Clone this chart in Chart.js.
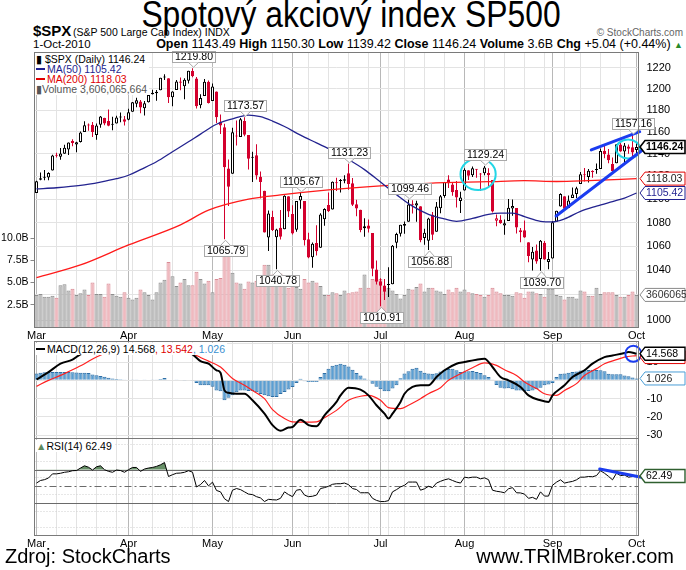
<!DOCTYPE html>
<html><head><meta charset="utf-8">
<script src="https://cdn.jsdelivr.net/npm/chart.js@4.4.1/dist/chart.umd.min.js"></script>
<style>
body{margin:0;background:#fff;width:686px;height:570px;overflow:hidden;position:relative;font-family:"Liberation Sans",Arial,sans-serif;color:#000;}
.abs{position:absolute;white-space:nowrap;}
canvas{position:absolute;left:0;}
.leg{background:#fff;font-family:"Liberation Sans",sans-serif;font-size:10.5px;line-height:10px;padding:1px 2px 1px 1px;}
.dash{display:inline-block;width:9px;height:2px;vertical-align:3px;margin-right:2px;}
</style></head><body>

<div class="abs" style="left:351px;top:-6px;font-size:37px;transform:translateX(-50%) scaleX(0.86);">Spotový akciový index SP500</div>
<div class="abs" style="left:33px;top:22px;font-size:15px;font-weight:bold;">$SPX</div>
<div class="abs" style="left:73px;top:26px;font-size:10.5px;">(S&amp;P 500 Large Cap Index) INDX</div>
<div class="abs" style="right:3px;top:27px;font-size:10px;color:#666;">© StockCharts.com</div>
<div class="abs" style="left:33px;top:38px;font-size:11.5px;">1-Oct-2010</div>
<div class="abs" style="right:3px;top:37px;font-size:12.5px;"><b>Open</b> 1143.49 <b>High</b> 1150.30 <b>Low</b> 1139.42 <b>Close</b> 1146.24 <b>Volume</b> 3.6B <b>Chg</b> +5.04 (+0.44%) <span style="color:#2a8a2a;font-size:9px;">▲</span></div>

<canvas id="cMain" width="686" height="290" style="top:51px"></canvas>
<canvas id="cMacd" width="686" height="99" style="top:340px"></canvas>
<canvas id="cRsi" width="686" height="115" style="top:437px"></canvas>

<div class="abs leg" style="left:35px;top:53px;">
 <div>&#9646; $SPX (Daily) 1146.24</div>
 <div style="color:#1f1f8f"><span class="dash" style="background:#1f1f8f"></span>MA(50) 1105.42</div>
 <div style="color:#e00000"><span class="dash" style="background:#e00000"></span>MA(200) 1118.03</div>
 <div style="color:#555">&#9646;Volume 3,606,065,664</div>
</div>
<div class="abs leg" style="left:35px;top:343px;"><span class="dash" style="background:#000"></span>MACD(12,26,9) 14.568<span style="color:#e00000">, 13.542</span><span style="color:#3a90d0">, 1.026</span></div>
<div class="abs leg" style="left:35px;top:440px;"><span style="color:#5e8a5e">&#9650;</span>RSI(14) 62.49</div>

<div class="abs" style="left:5px;top:545px;font-size:20px;">Zdroj: StockCharts</div>
<div class="abs" style="right:12px;top:545px;font-size:20px;">www.TRIMBroker.com</div>

<script>
// ---------------- DATA ----------------
const monthNames = ['Mar','Apr','May','Jun','Jul','Aug','Sep','Oct'];
const monthStart = [0,23,44,64,86,107,129,150];
const weekStart = [0,5,10,15,20,24,29,34,39,44,49,54,59,64,68,73,78,83,88,92,97,102,107,112,117,122,127,132,136,141,146];
const priceTicks = [1000,1020,1040,1060,1080,1100,1120,1140,1160,1180,1200,1220];
const volumeTicks = [2.5,5,7.5,10];
const prevClose0 = 1104.49;

const open = [1105.36,1117.01,1119.36,1119.12,1125.12,1138.40,1137.56,1140.22,1143.96,1151.71,
1148.53,1150.83,1159.94,1166.13,1166.68,1157.25,1166.47,1172.70,1170.03,1167.58,
1167.71,1173.75,1171.75,1171.23,1178.71,1186.01,1188.23,1181.75,1187.47,1194.94,
1195.94,1198.69,1210.77,1210.17,1192.06,1199.04,1207.16,1202.52,1207.87,1217.07,
1209.92,1184.59,1193.30,1206.77,1188.58,1197.50,1169.24,1164.38,1127.04,1122.27,
1156.39,1155.43,1170.04,1157.19,1136.52,1138.78,1119.57,1107.34,1067.26,1084.78,
1067.42,1075.51,1074.27,1102.59,1087.30,1073.89,1098.82,1098.43,1065.84,1050.81,
1062.75,1058.77,1082.65,1095.00,1091.21,1114.02,1115.98,1116.16,1122.79,1113.90,
1095.57,1090.93,1075.10,1077.50,1071.10,1040.56,1031.10,1027.65,1028.09,1028.54,
1062.92,1070.50,1077.23,1080.65,1095.61,1094.46,1093.85,1066.85,1064.53,1086.67,
1072.14,1092.17,1102.89,1117.36,1112.84,1108.07,1098.44,1107.53,1125.34,1121.06,
1125.78,1122.07,1122.80,1122.92,1116.89,1081.48,1082.22,1077.49,1081.16,1092.08,
1092.44,1073.36,1073.36,1063.20,1048.98,1056.28,1049.27,1062.90,1046.88,1049.72,
1080.66,1093.61,1102.60,1092.36,1101.15,1104.57,1113.38,1121.16,1119.43,1123.89,
1126.39,1126.57,1142.82,1139.49,1131.10,1131.69,1148.64,1142.31,1146.75,1145.97,
1143.49];
const high = [1116.11,1123.46,1125.64,1123.73,1139.38,1141.05,1145.37,1148.26,1150.24,1153.41,
1150.98,1160.28,1169.84,1167.77,1169.20,1167.82,1174.72,1173.04,1180.69,1173.93,
1174.85,1177.83,1174.56,1181.43,1187.73,1191.80,1189.60,1188.55,1194.66,1199.20,
1199.04,1210.65,1213.92,1210.17,1197.87,1208.58,1210.99,1210.27,1217.28,1219.80,
1211.38,1195.05,1209.36,1207.99,1205.13,1197.50,1175.95,1167.58,1135.13,1163.85,
1170.48,1172.87,1173.57,1157.19,1141.88,1148.66,1124.27,1107.34,1090.16,1089.95,
1074.75,1090.75,1103.52,1102.59,1094.77,1098.56,1105.67,1098.43,1071.36,1063.15,
1077.74,1087.85,1092.25,1105.91,1115.59,1118.74,1117.72,1121.01,1131.23,1118.50,
1099.64,1090.93,1083.56,1082.60,1071.10,1048.08,1033.58,1032.95,1042.50,1060.89,
1071.25,1078.16,1080.78,1099.46,1099.08,1098.66,1093.85,1074.70,1083.94,1088.96,
1097.50,1103.73,1115.01,1120.95,1114.66,1115.90,1106.44,1127.30,1125.44,1128.75,
1126.56,1123.06,1129.24,1127.16,1116.89,1086.72,1086.25,1082.62,1100.14,1099.77,
1092.44,1075.26,1081.58,1063.20,1059.38,1061.45,1065.21,1064.40,1055.14,1081.30,
1090.10,1105.10,1102.60,1103.26,1110.27,1110.88,1123.87,1127.36,1126.46,1125.44,
1131.47,1144.86,1148.59,1144.38,1136.77,1148.90,1149.92,1150.00,1148.63,1157.16,
1150.30];
const low = [1105.36,1116.51,1116.58,1116.66,1125.12,1136.77,1134.90,1140.09,1138.99,1146.97,
1141.45,1150.35,1159.94,1161.16,1155.33,1152.88,1163.83,1166.01,1165.09,1161.48,
1167.71,1168.92,1165.77,1170.69,1178.71,1182.77,1177.25,1175.12,1187.15,1194.71,
1188.82,1198.69,1208.50,1186.77,1183.68,1199.04,1198.85,1190.19,1205.10,1211.07,
1181.62,1181.81,1193.30,1186.32,1188.58,1168.12,1158.15,1065.79,1094.15,1122.27,
1147.71,1155.43,1156.14,1126.14,1114.96,1117.20,1100.66,1071.58,1055.90,1072.70,
1040.78,1065.59,1074.27,1084.78,1069.89,1072.03,1091.81,1060.50,1049.86,1042.17,
1052.25,1058.77,1077.12,1089.03,1091.21,1107.13,1105.87,1113.93,1108.24,1094.18,
1085.31,1071.60,1067.89,1071.45,1035.18,1028.33,1010.91,1015.93,1018.35,1028.54,
1058.24,1068.10,1070.45,1080.65,1087.68,1080.53,1063.32,1061.11,1056.88,1065.25,
1072.14,1087.88,1101.30,1109.78,1103.11,1092.82,1088.01,1107.53,1116.76,1119.46,
1118.81,1107.17,1120.91,1111.58,1088.55,1076.69,1079.00,1069.49,1081.16,1085.76,
1070.66,1063.32,1067.08,1046.68,1039.83,1045.40,1039.70,1048.79,1040.88,1049.72,
1080.39,1093.61,1091.15,1092.36,1101.15,1101.15,1113.38,1115.58,1114.63,1118.88,
1122.43,1126.57,1136.22,1131.58,1122.79,1131.69,1142.00,1132.09,1140.26,1136.08,
1139.42];
const close = [1115.71,1118.31,1118.79,1122.97,1138.70,1138.50,1140.45,1145.61,1150.24,1149.99,
1150.51,1159.46,1166.21,1165.83,1159.90,1165.81,1174.17,1167.72,1165.73,1166.59,
1173.22,1173.27,1169.43,1178.10,1187.44,1189.44,1182.45,1186.44,1194.37,1196.48,
1197.30,1210.65,1211.67,1192.13,1197.52,1207.17,1205.94,1208.67,1217.28,1212.05,
1183.71,1191.36,1206.78,1186.69,1202.26,1173.60,1165.87,1128.15,1110.88,1159.73,
1155.79,1171.67,1157.44,1135.68,1136.94,1120.80,1115.05,1071.59,1087.69,1073.65,
1074.03,1067.95,1103.06,1089.41,1070.71,1098.38,1102.83,1064.88,1050.47,1062.00,
1055.69,1086.84,1091.60,1089.63,1115.23,1114.61,1116.04,1117.51,1113.20,1095.31,
1092.04,1073.69,1076.76,1074.57,1041.24,1030.71,1027.37,1022.58,1028.06,1060.27,
1070.25,1077.96,1078.75,1095.34,1095.17,1096.48,1064.88,1071.25,1083.48,1069.59,
1093.67,1102.66,1115.01,1113.84,1106.13,1101.53,1101.60,1125.86,1120.46,1127.24,
1125.81,1121.64,1127.79,1121.06,1089.47,1083.61,1079.25,1079.38,1092.54,1094.16,
1075.63,1071.69,1067.36,1051.87,1055.33,1047.22,1064.59,1048.92,1049.33,1080.29,
1090.10,1104.51,1091.84,1098.87,1104.18,1109.55,1121.90,1121.10,1125.07,1124.66,
1125.59,1142.71,1139.78,1134.28,1124.83,1148.67,1142.16,1147.70,1144.73,1141.20,
1146.24];
// volume in billions of shares
const volume = [3.6,3.7,3.4,3.4,3.5,3.3,4.7,4.8,4.1,4.3,
3.6,3.8,4.2,3.6,5.0,3.7,3.7,3.4,4.9,3.7,
3.5,3.4,3.9,3.3,3.1,3.3,4.2,3.9,3.6,3.1,
3.9,5.0,5.3,7.3,5.7,4.6,5.0,5.4,4.7,4.7,
6.2,5.4,4.9,5.2,3.9,5.4,5.5,8.8,8.0,6.1,
5.0,4.9,4.3,5.1,5.0,5.2,5.5,7.0,7.0,5.9,
6.1,6.0,5.2,4.4,4.6,4.5,4.3,5.4,5.0,5.2,
5.0,4.6,3.6,3.6,3.9,3.8,3.6,4.1,3.8,3.9,
4.0,4.4,5.9,4.4,5.4,5.3,5.4,4.1,4.4,4.1,
3.7,3.2,3.6,4.3,4.2,4.5,4.9,4.0,4.4,4.4,
4.1,4.0,3.7,4.2,3.9,4.4,4.0,4.2,3.9,3.8,
3.7,3.6,3.4,3.6,4.4,4.0,3.8,3.6,3.6,3.5,
3.9,3.8,3.3,4.0,4.0,3.8,3.7,3.4,4.3,4.3,
3.6,3.5,3.1,3.4,3.4,3.2,4.1,4.0,3.5,3.5,
4.4,3.7,3.9,3.9,3.9,3.6,3.4,3.4,3.6,4.0,
3.606];
// moving averages read at sample days: [day index, value]
const ma50 = [[0,1109],[5,1110],[11,1112],[16,1115],[20,1118],[23,1121],[26,1126],[30,1133],[34,1142],[38,1151],[41,1158],[45,1167],[49,1172],[53,1175.5],[56,1174],[59,1170],[62,1165],[66,1157],[70,1150],[74,1143],[78,1135],[82,1126],[86,1115],[90,1104],[94,1094],[98,1087],[102,1083],[105,1081],[109,1083.5],[113,1087],[116,1088],[119,1088],[122,1085],[126,1081],[129,1080.5],[132,1083],[136,1089.5],[140,1094],[144,1098],[147,1101],[150,1105.42]];
const ma200 = [[0,1034],[11,1044.4],[23,1061],[36,1078],[43,1090.5],[53,1100],[61,1103.7],[73,1108.1],[86,1111.6],[98,1113.9],[113,1115.3],[122,1116.2],[130,1115.5],[138,1116.3],[150,1118.03]];
const macdLine = [[0,0.5],[3,4.5],[6,9.1],[9,11.3],[11,14.2],[14,16.0],[17,16.8],[20,16.9],[23,16.5],[26,16.8],[29,17.2],[32,18.0],[34,16.5],[36,15.8],[38,15.0],[39,14.2],[41,10.5],[43,9.1],[45,5.5],[46,4.2],[47,-5.5],[48,-6.8],[50,-7.3],[52,-7.3],[54,-10.9],[57,-18.2],[59,-24.5],[61,-27.6],[63,-25.8],[64,-25.5],[66,-21.5],[68,-24.5],[70,-25.1],[72,-19.1],[75,-11.8],[76,-8.2],[78,-4.0],[81,-5.1],[83,-8.2],[85,-13.6],[87,-18.2],[88,-20.9],[89,-18.2],[91,-11.8],[92,-7.3],[94,-3.6],[96,-2.7],[98,-2.7],[100,1.8],[102,5.5],[105,9.1],[107,10.0],[110,11.3],[112,11.8],[114,7.3],[116,1.8],[118,0],[121,-3.6],[123,-8.2],[126,-10.9],[128,-11.8],[129,-8.2],[132,-2.7],[134,1.8],[137,5.5],[139,9.1],[142,12.7],[144,13.6],[147,14.9],[148,15.5],[150,14.568]];
const signalLine = [[0,-3.3],[3,0],[6,2.7],[9,5.8],[12,9.1],[15,12.8],[18,15.2],[21,16.2],[24,16.3],[27,16.5],[30,16.8],[33,17.0],[36,16.2],[39,14.6],[41,12.5],[43,10.5],[46,7.3],[49,1.0],[52,-2.7],[54,-5.5],[57,-10.0],[59,-16.0],[62,-20.9],[64,-22.7],[67,-22.8],[70,-22.7],[72,-20.4],[75,-16.4],[78,-10.9],[81,-8.7],[83,-8.2],[86,-10.9],[88,-14.9],[91,-15.5],[93,-13.6],[96,-10.0],[98,-7.3],[101,-4.0],[103,0],[106,3.6],[109,6.9],[112,9.5],[115,8.2],[117,5.8],[120,2.7],[122,-0.9],[125,-4.5],[127,-7.3],[130,-8.2],[132,-5.5],[135,-1.8],[137,2.7],[140,6.4],[142,9.1],[145,11.3],[147,12.7],[150,13.542]];
const macdHist = [3.8,4.2,4.4,4.5,4.6,4.6,4.5,4.5,4.6,4.4,
4.3,4.2,4.2,4.0,3.2,2.8,2.4,2.0,1.4,1.0,
0.8,0.6,0.2,0.3,0.5,0.5,0.3,0.2,0.3,0.4,
0.4,0.8,1.3,0.3,0.0,0.2,-0.2,-0.3,0.0,-0.3,
-1.5,-2.7,-2.7,-2.7,-3.5,-5.5,-6.0,-10.9,-9.5,-8.2,
-6.5,-5.5,-5.5,-5.8,-5.8,-6.5,-7.5,-8.2,-8.7,-9.1,
-9.1,-7.5,-6.4,-5.0,-3.6,-1.5,0.9,-0.5,-0.9,-0.9,
-0.9,1.8,4.0,6.4,8.0,8.5,9.1,8.5,7.5,5.8,
4.0,2.7,1.0,0.2,-1.8,-3.5,-4.8,-6.0,-6.0,-4.5,
-2.7,1.2,3.8,5.0,6.4,6.9,5.2,4.2,3.8,3.6,
3.9,4.8,5.8,6.2,6.4,5.5,4.5,4.8,5.0,5.1,
4.6,4.0,2.8,1.8,0.4,-2.5,-4.0,-4.5,-4.3,-4.8,
-5.5,-5.6,-5.8,-5.8,-5.5,-4.8,-4.0,-2.7,-2.2,-1.5,
1.8,3.6,3.8,4.2,4.5,4.8,5.4,5.5,5.6,5.8,
5.7,5.5,5.0,3.6,3.4,3.4,3.3,2.6,2.2,1.6,
1.026];
const rsi = [53.9,57,58,60,65,65,65.7,66.9,67.5,68.8,
69,72,74.7,73,69.6,73.5,74.7,70,68,66.9,
69.6,69,66.9,70,72.7,72.7,68,70.8,72,72.7,
74,75.9,78.6,61.8,64,65.7,66,66.9,68.8,67,
49.2,52,57,50.5,55,45,43.3,35,31.6,45.3,
47.3,46,43.3,40.6,40,37.5,36,31.6,34.3,33.8,
33.5,35.5,43.3,40,37.5,45.3,46.1,39.4,37.5,38,
39.4,47.3,48.4,50,52.4,53.1,53.1,53.9,52,47.3,
46.1,42.2,42.2,42.2,35.5,33,31.6,31.6,32.7,43.3,
46,49.2,51.2,55.1,55.1,55.1,45.3,47,50,48.4,
53.9,56,57.8,59,57,55.1,53.9,61,60.2,61,
61,59,60.2,58,45.3,44,43.3,42.2,47,48.4,
42.2,42,40.6,35.5,36.7,34.3,43.3,38.2,38.2,51.2,
55,57.8,53.9,55,55.9,57.8,61,61,61.8,61.5,
62.9,68.8,65.7,62,57.8,65.7,62.9,63.5,61,61.8,
62.49];
// labelled extremes: [day index, price, +1 above / -1 below]
const priceNotes = [[39,1219.80,1],[52,1173.57,1],[47,1065.79,-1],[60,1040.78,-1],[66,1105.67,1],[78,1131.23,1],[86,1010.91,-1],[93,1099.46,1],[98,1056.88,-1],[112,1129.24,1],[126,1039.70,-1],[149,1157.16,1]];
// hand-drawn marks in data units
const ellipses = [[106.0,114.8,1108,1136],[144.9,150.9,1136,1153]];
const trendLines = [[129.9,1085.5,151.5,1143.6],[138.7,1143.6,150.8,1160.2]];
const macdCircle = [149.2,14.5];
const rsiTrend = [140.8,70.8,151.2,61];
const lastVals = {close:1146.24, ma50:1105.42, ma200:1118.03, vol:3.606, volText:'3606065', macd:14.568, signal:13.542, hist:1.026, rsi:62.49};

// ---------------- HELPERS ----------------
const FONT = '"Liberation Sans",Arial,sans-serif';
const RED = '#d3002d';
const N = close.length;
const idx = Array.from({length:N},(_,i)=>i);
const upDay = idx.map(i => close[i] >= (i ? close[i-1] : prevClose0));
const gridIdx = Array.from(new Set(weekStart.concat(monthStart))).sort((a,b)=>a-b);
const pts = arr => arr.map(([x,y])=>({x,y}));
const noPad = s => { s.paddingTop = 0; s.paddingBottom = 0; s.paddingLeft = 0; s.paddingRight = 0; };

function xScale(showLabels, h){
  return {
    type:'linear', min:-0.5, max:150.5, offset:false,
    afterBuildTicks: s => { s.ticks = gridIdx.map(v=>({value:v})); },
    ticks:{display:showLabels, autoSkip:false, maxRotation:0, padding:2, color:'#000', font:{family:FONT,size:11},
      callback: v => { const k = monthStart.indexOf(v); return k>=0 ? monthNames[k] : ''; }},
    grid:{color: c => (c.tick && monthStart.includes(c.tick.value)) ? '#b8b8b8' : '#e3e3e3', drawTicks:false, offset:false},
    border:{display:false},
    afterFit: s => { s.height = h; noPad(s); }
  };
}
function tag(ctx, x, y, text, border, color, bold, lw){
  ctx.save();
  ctx.font = (bold?'bold ':'') + '10.5px ' + FONT;
  const w = 686 - (x+5);
  const h = 13;
  ctx.beginPath();
  ctx.moveTo(x, y);
  ctx.lineTo(x+5, y-h/2);
  ctx.lineTo(x+5+w-1, y-h/2);
  ctx.lineTo(x+5+w-1, y+h/2);
  ctx.lineTo(x+5, y+h/2);
  ctx.closePath();
  ctx.fillStyle = '#fff'; ctx.fill();
  ctx.strokeStyle = border; ctx.lineWidth = lw||1; ctx.stroke();
  ctx.fillStyle = color; ctx.textBaseline = 'middle'; ctx.textAlign = 'left';
  ctx.fillText(text, x+6, y+0.5);
  ctx.restore();
}
function frame(chart){
  const {ctx, chartArea:a} = chart;
  ctx.save(); ctx.strokeStyle = '#7a7a7a'; ctx.lineWidth = 1;
  ctx.strokeRect(Math.floor(a.left)+0.5, Math.floor(a.top)+0.5, Math.floor(a.right)-Math.floor(a.left), Math.floor(a.bottom)-Math.floor(a.top));
  ctx.restore();
}
Chart.defaults.font.family = FONT;

// ---------------- MAIN PRICE PANEL ----------------
const mainDeco = {
  id:'mainDeco',
  afterDatasetsDraw(chart){
    const {ctx, scales:{x, y}} = chart;
    ctx.save();
    ctx.strokeStyle = '#22d6e6'; ctx.lineWidth = 2;
    ellipses.forEach(([i0,i1,p0,p1])=>{
      const x0=x.getPixelForValue(i0), x1=x.getPixelForValue(i1), y0=y.getPixelForValue(p0), y1=y.getPixelForValue(p1);
      ctx.beginPath(); ctx.ellipse((x0+x1)/2,(y0+y1)/2,Math.abs(x1-x0)/2,Math.abs(y1-y0)/2,0,0,Math.PI*2); ctx.stroke();
    });
    ctx.strokeStyle = '#1b3cf0'; ctx.lineWidth = 3; ctx.lineCap = 'round';
    trendLines.forEach(([i0,p0,i1,p1])=>{
      ctx.beginPath(); ctx.moveTo(x.getPixelForValue(i0), y.getPixelForValue(p0)); ctx.lineTo(x.getPixelForValue(i1), y.getPixelForValue(p1)); ctx.stroke();
    });
    ctx.font = '10.5px ' + FONT; ctx.lineWidth = 1; ctx.lineCap = 'butt';
    priceNotes.forEach(([i,p,dir])=>{
      const px = Math.round(x.getPixelForValue(i)), py = y.getPixelForValue(p);
      const t = p.toFixed(2);
      const w = Math.round(ctx.measureText(t).width) + 5, h = 11;
      const bx = Math.round(px - w/2) + 0.5;
      let by, edge, tip;
      if (dir > 0){ by = Math.round(py - 6 - h) + 0.5; edge = by + h; tip = py - 1; }
      else { by = Math.round(py + 6) + 0.5; edge = by; tip = py + 1; }
      ctx.fillStyle = '#fff'; ctx.strokeStyle = '#a9a9a9';
      ctx.fillRect(bx, by, w, h); ctx.strokeRect(bx, by, w, h);
      ctx.beginPath(); ctx.moveTo(px-4.5, edge); ctx.lineTo(px+0.5, tip); ctx.lineTo(px+5.5, edge); ctx.closePath();
      ctx.fill();
      ctx.beginPath(); ctx.moveTo(px-4.5, edge); ctx.lineTo(px+0.5, tip); ctx.lineTo(px+5.5, edge); ctx.stroke();
      ctx.fillStyle = '#000'; ctx.textAlign = 'center'; ctx.textBaseline = 'middle';
      ctx.fillText(t, bx + w/2, by + h/2 + 0.5);
    });
    ctx.restore();
  },
  afterDraw(chart){
    frame(chart);
    const {ctx, chartArea:a, scales:{y, yv}} = chart;
    const tx = Math.floor(a.right) + 2;
    tag(ctx, tx, yv.getPixelForValue(lastVals.vol), lastVals.volText, '#8a8a8a', '#333', false);
    tag(ctx, tx, y.getPixelForValue(lastVals.ma50), lastVals.ma50.toFixed(2), '#1f1f8f', '#1f1f8f', false);
    tag(ctx, tx, y.getPixelForValue(lastVals.ma200), lastVals.ma200.toFixed(2), '#e00000', '#222', false);
    tag(ctx, tx, y.getPixelForValue(lastVals.close), lastVals.close.toFixed(2), '#000', '#000', true, 1.6);
  }
};

new Chart(document.getElementById('cMain'), {
  type:'line',
  data:{ datasets:[
    { label:'MA50', type:'line', data:pts(ma50), yAxisID:'y', borderColor:'#23238f', borderWidth:1.3, pointRadius:0, cubicInterpolationMode:'monotone', order:1 },
    { label:'MA200', type:'line', data:pts(ma200), yAxisID:'y', borderColor:'#ff1a1a', borderWidth:1.3, pointRadius:0, cubicInterpolationMode:'monotone', order:2 },
    { label:'body', type:'bar', grouped:false, data:idx.map(i=>({x:i, y:[open[i], close[i]]})), yAxisID:'y',
      backgroundColor: idx.map(i => close[i] < open[i] ? (upDay[i] ? '#000' : RED) : '#fff'),
      borderColor: idx.map(i => upDay[i] ? '#000' : RED), borderWidth:1, borderSkipped:false, barThickness:3, minBarLength:1, inflateAmount:0, order:5 },
    { label:'wick', type:'bar', grouped:false, data:idx.map(i=>({x:i, y:[low[i], high[i]]})), yAxisID:'y',
      backgroundColor: idx.map(i => upDay[i] ? '#000' : RED), borderWidth:0, barThickness:1, inflateAmount:0, order:6 },
    { label:'Volume', type:'bar', grouped:false, data:idx.map(i=>({x:i, y:volume[i]})), yAxisID:'yv',
      backgroundColor: idx.map(i => upDay[i] ? '#bdbdbd' : '#f0b9bf'), borderColor: idx.map(i => upDay[i] ? '#8f8f8f' : '#d98c96'),
      borderWidth:1, borderSkipped:'start', barThickness:4, inflateAmount:0, order:10 }
  ]},
  options:{
    responsive:false, animation:false, devicePixelRatio:1, events:[],
    layout:{ padding:{top:1, left:0, right:0, bottom:0}, autoPadding:false },
    plugins:{ legend:{display:false}, tooltip:{enabled:false} },
    scales:{
      x: xScale(true, 14),
      y: { type:'logarithmic', position:'right', min:994.5, max:1235.5,
        afterBuildTicks: s => { s.ticks = priceTicks.map(v=>({value:v})); },
        ticks:{ callback: v => String(v), color:'#000', font:{family:FONT, size:11}, padding:8 },
        grid:{ color:'#e3e3e3', drawTicks:false }, border:{display:false},
        afterFit: s => { s.width = 47.5; noPad(s); } },
      yv: { type:'linear', position:'left', min:0, max:30.9,
        afterBuildTicks: s => { s.ticks = volumeTicks.map(v=>({value:v})); },
        ticks:{ callback: v => v.toFixed(1)+'B', color:'#000', font:{family:FONT, size:10.5}, padding:2 },
        grid:{ drawOnChartArea:false, color:'#888', tickLength:4 }, border:{display:false},
        afterFit: s => { s.width = 34.5; noPad(s); } }
    }
  },
  plugins:[mainDeco]
});

// ---------------- MACD PANEL ----------------
const macdDeco = {
  id:'macdDeco',
  afterDatasetsDraw(chart){
    const {ctx, scales:{x, y}} = chart;
    ctx.save(); ctx.strokeStyle = '#1b3cf0'; ctx.lineWidth = 2;
    ctx.beginPath(); ctx.arc(x.getPixelForValue(macdCircle[0]), y.getPixelForValue(macdCircle[1]), 8, 0, Math.PI*2); ctx.stroke();
    ctx.restore();
  },
  afterDraw(chart){
    frame(chart);
    const {ctx, chartArea:a, scales:{y}} = chart;
    const tx = Math.floor(a.right) + 2;
    tag(ctx, tx, y.getPixelForValue(lastVals.hist), lastVals.hist.toFixed(3), '#4a9ed6', '#222', false);
    tag(ctx, tx, y.getPixelForValue(lastVals.signal)+1.5, lastVals.signal.toFixed(3), '#e00000', '#222', false);
    tag(ctx, tx, y.getPixelForValue(lastVals.macd), lastVals.macd.toFixed(3), '#000', '#000', false, 1.4);
  }
};
new Chart(document.getElementById('cMacd'), {
  type:'line',
  data:{ datasets:[
    { label:'MACD', type:'line', data:pts(macdLine), borderColor:'#000', borderWidth:2, pointRadius:0, cubicInterpolationMode:'monotone', order:1 },
    { label:'Signal', type:'line', data:pts(signalLine), borderColor:'#ff2020', borderWidth:1.2, pointRadius:0, cubicInterpolationMode:'monotone', order:2 },
    { label:'Hist', type:'bar', grouped:false, data:idx.map(i=>({x:i, y:macdHist[i]})), backgroundColor:'#5b9fd3', borderColor:'#2f6fa6', borderWidth:1, borderSkipped:'start', barThickness:4, inflateAmount:0, order:5 }
  ]},
  options:{
    responsive:false, animation:false, devicePixelRatio:1, events:[],
    layout:{ padding:{top:1, left:34.5, right:0, bottom:1}, autoPadding:false },
    plugins:{ legend:{display:false}, tooltip:{enabled:false} },
    scales:{
      x: xScale(false, 0),
      y: { type:'linear', position:'right', min:-31.5, max:21.5,
        afterBuildTicks: s => { s.ticks = [-30,-20,-10,0,10,20].map(v=>({value:v})); },
        ticks:{ callback: v => (v===20 ? '' : String(v)), color:'#000', font:{family:FONT, size:11}, padding:8 },
        grid:{ color:'#e3e3e3', drawTicks:false }, border:{display:false},
        afterFit: s => { s.width = 47.5; noPad(s); } }
    }
  },
  plugins:[macdDeco]
});

// ---------------- RSI PANEL ----------------
const rsiDeco = {
  id:'rsiDeco',
  beforeDatasetsDraw(chart){
    const {ctx, chartArea:a, scales:{y}} = chart;
    ctx.save(); ctx.strokeStyle = '#6a6a6a'; ctx.lineWidth = 1;
    [30,70].forEach(v=>{ const py = Math.round(y.getPixelForValue(v))+0.5; ctx.beginPath(); ctx.moveTo(a.left, py); ctx.lineTo(a.right, py); ctx.stroke(); });
    ctx.setLineDash([7,3,2,3]);
    const p5 = Math.round(y.getPixelForValue(50))+0.5; ctx.beginPath(); ctx.moveTo(a.left, p5); ctx.lineTo(a.right, p5); ctx.stroke();
    ctx.restore();
  },
  afterDatasetsDraw(chart){
    const {ctx, scales:{x, y}} = chart;
    ctx.save(); ctx.strokeStyle = '#1b3cf0'; ctx.lineWidth = 3; ctx.lineCap = 'round';
    ctx.beginPath(); ctx.moveTo(x.getPixelForValue(rsiTrend[0]), y.getPixelForValue(rsiTrend[1])); ctx.lineTo(x.getPixelForValue(rsiTrend[2]), y.getPixelForValue(rsiTrend[3])); ctx.stroke();
    ctx.restore();
  },
  afterDraw(chart){
    frame(chart);
    const {ctx, chartArea:a, scales:{y}} = chart;
    tag(ctx, Math.floor(a.right)+2, y.getPixelForValue(lastVals.rsi), lastVals.rsi.toFixed(2), '#2f5f2f', '#000', false, 1.4);
  }
};
new Chart(document.getElementById('cRsi'), {
  type:'line',
  data:{ datasets:[
    { label:'RSI', data:idx.map(i=>({x:i, y:rsi[i]})), borderColor:'#000', borderWidth:1, pointRadius:0, tension:0,
      fill:{ target:{value:70}, above:'#668f66', below:'rgba(0,0,0,0)' } }
  ]},
  options:{
    responsive:false, animation:false, devicePixelRatio:1, events:[],
    layout:{ padding:{top:1, left:34.5, right:0, bottom:0}, autoPadding:false },
    plugins:{ legend:{display:false}, tooltip:{enabled:false} },
    scales:{
      x: xScale(true, 17),
      y: { type:'linear', position:'right', min:-8.7, max:108.2,
        afterBuildTicks: s => { s.ticks = [0,10,20,30,40,50,60,70,80,90,100].map(v=>({value:v})); },
        ticks:{ callback: v => ([10,30,50,70,90].includes(v) ? String(v) : ''), color:'#000', font:{family:FONT, size:11}, padding:8 },
        grid:{ color:'#cfcfcf', drawTicks:false }, border:{display:false, dash:[1,2]},
        afterFit: s => { s.width = 47.5; noPad(s); } }
    }
  },
  plugins:[rsiDeco]
});
</script>
</body></html>
